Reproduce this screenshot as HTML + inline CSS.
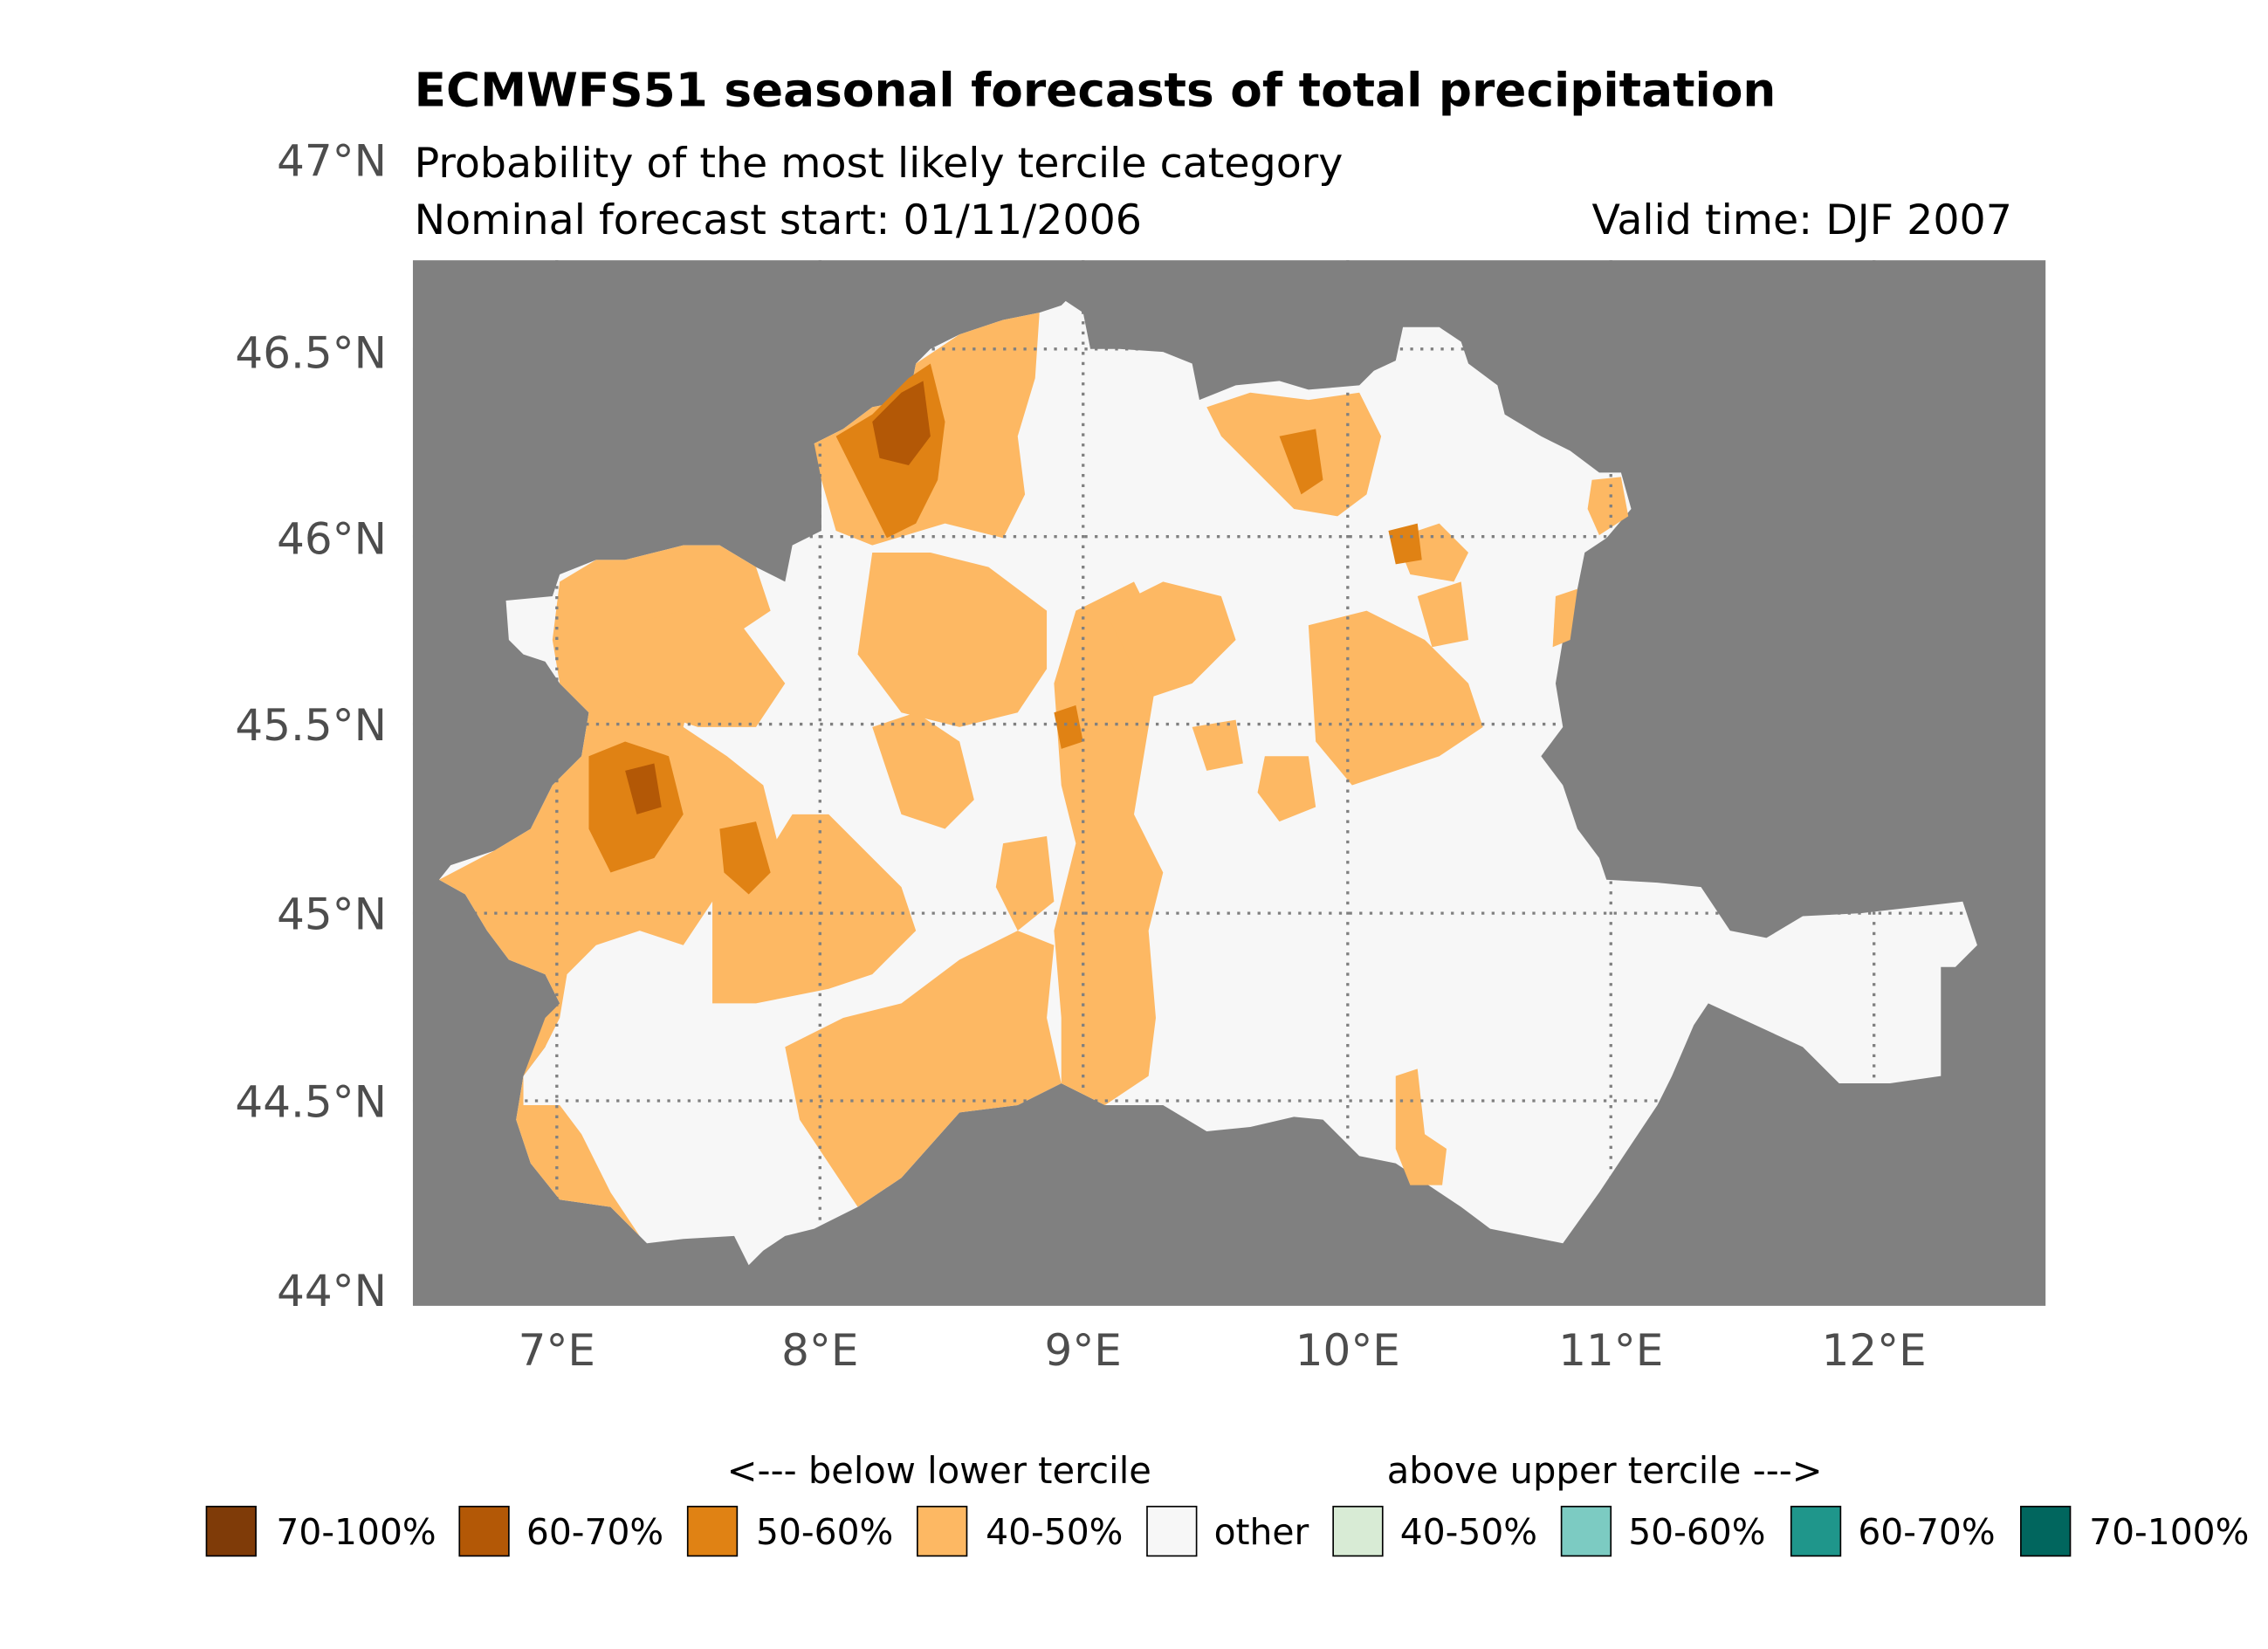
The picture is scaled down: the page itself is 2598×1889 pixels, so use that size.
<!DOCTYPE html>
<html><head><meta charset="utf-8"><style>
html,body{margin:0;padding:0;background:#fff;}
svg{display:block;}
text{font-family:"DejaVu Sans","Liberation Sans",sans-serif;}
</style></head><body>
<svg width="2598" height="1889" viewBox="0 0 1560 1134" preserveAspectRatio="none" xmlns="http://www.w3.org/2000/svg">
<rect width="1560" height="1134" fill="#fff"/>
<text x="285" y="73" font-size="32" font-weight="bold" fill="#000">ECMWFS51 seasonal forecasts of total precipitation</text>
<text x="285" y="122" font-size="28.5" fill="#000">Probability of the most likely tercile category</text>
<text x="285" y="161" font-size="28.5" fill="#000">Nominal forecast start: 01/11/2006</text>
<text x="1384" y="161" font-size="28.5" fill="#000" text-anchor="end">Valid time: DJF 2007</text>
<rect x="284" y="179" width="1123" height="719" fill="#808080"/>
<polygon fill="#f7f7f7" points="733,207 745,215 750,240 770,240 800,242 820,250 825,275 850,265 880,262 900,268 935,265 945,255 960,248 965,225 990,225 1005,235 1010,250 1030,265 1035,285 1060,300 1080,310 1100,325 1115,325 1122,350 1105,370 1090,380 1085,405 1075,440 1070,470 1075,500 1060,520 1075,540 1085,570 1100,590 1105,605 1140,607 1170,610 1190,640 1215,645 1240,630 1280,628 1350,620 1360,650 1345,665 1335,665 1335,740 1300,745 1265,745 1240,720 1175,690 1165,705 1150,740 1140,760 1120,790 1100,820 1075,855 1050,850 1025,845 1005,830 990,820 960,800 935,795 910,770 890,768 860,775 830,778 800,760 760,760 730,745 700,760 660,765 620,810 590,830 560,845 540,850 525,860 515,870 505,850 470,852 445,855 420,830 385,825 365,800 355,770 360,740 375,720 385,690 375,670 350,660 335,640 320,615 302,605 310,595 340,585 365,570 380,540 400,520 405,490 385,470 375,455 360,450 350,440 348,413 380,410 385,395 410,385 430,385 470,375 495,375 520,390 540,400 545,375 565,365 565,320 560,305 580,295 600,280 625,275 630,250 640,240 660,230 690,220 715,215 730,210"/>
<g fill="#fdb863">
<polygon points="302,605 340,585 365,570 380,540 400,520 405,490 385,470 380,440 385,400 410,385 430,385 470,375 495,375 520,390 530,420 500,440 480,460 470,500 500,520 525,540 535,580 520,610 490,620 470,650 440,640 410,650 390,670 385,700 375,720 360,740 360,760 385,760 400,780 420,820 440,850 420,830 385,825 365,800 355,770 360,740 375,700 385,690 375,670 350,660 335,640 320,615"/>
<polygon points="560,305 580,295 600,280 625,275 630,250 660,230 690,220 715,215 712,260 700,300 705,340 690,370 650,360 600,375 575,365 565,330"/>
<polygon points="430,430 470,420 510,430 540,470 520,500 480,500 450,490 430,470"/>
<polygon points="600,380 640,380 680,390 720,420 720,460 700,490 660,500 620,490 590,450"/>
<polygon points="740,420 780,400 800,440 790,500 780,560 800,600 790,640 795,700 790,740 760,760 730,745 730,700 725,640 740,580 730,540 725,470"/>
<polygon points="540,720 580,700 620,690 660,660 700,640 725,650 720,700 730,745 700,760 660,765 620,810 590,830 570,800 550,770"/>
<polygon points="490,620 520,600 545,560 570,560 600,590 620,610 630,640 600,670 570,680 520,690 490,690"/>
<polygon points="600,500 630,490 660,510 670,550 650,570 620,560"/>
<polygon points="830,280 860,270 900,275 935,270 950,300 940,340 920,355 890,350 860,320 840,300"/>
<polygon points="760,420 800,400 840,410 850,440 820,470 790,480"/>
<polygon points="900,430 940,420 980,440 1010,470 1020,500 990,520 960,530 930,540 905,510"/>
<polygon points="960,370 990,360 1010,380 1000,400 970,395"/>
<polygon points="1095,330 1115,328 1120,355 1100,368 1092,350"/>
<polygon points="1070,410 1085,405 1080,440 1068,445"/>
<polygon points="960,740 975,735 980,780 995,790 992,815 970,815 960,790"/>
<polygon points="870,520 900,520 905,555 880,565 865,545"/>
<polygon points="690,580 720,575 725,620 700,640 685,610"/>
<polygon points="820,500 850,495 855,525 830,530"/>
<polygon points="975,410 1005,400 1010,440 985,445"/>
</g>
<g fill="#e08214">
<polygon points="575,300 600,285 625,260 640,250 650,290 645,330 630,360 610,370 590,330"/>
<polygon points="405,520 430,510 460,520 470,560 450,590 420,600 405,570"/>
<polygon points="495,570 520,565 530,600 515,615 498,600"/>
<polygon points="725,490 740,485 745,510 730,515"/>
<polygon points="880,300 905,295 910,330 895,340"/>
<polygon points="955,365 975,360 978,385 960,388"/>
</g>
<g fill="#b35806">
<polygon points="600,290 620,270 635,262 640,300 625,320 605,315"/>
<polygon points="430,530 450,525 455,555 438,560"/>
</g>
<g stroke="#808080" stroke-width="2" stroke-dasharray="2,5" fill="none">
<line x1="383" y1="179" x2="383" y2="898"/><line x1="564" y1="179" x2="564" y2="898"/>
<line x1="745" y1="179" x2="745" y2="898"/><line x1="927" y1="179" x2="927" y2="898"/>
<line x1="1108" y1="179" x2="1108" y2="898"/><line x1="1289" y1="179" x2="1289" y2="898"/>
<line x1="284" y1="240" x2="1407" y2="240"/><line x1="284" y1="369" x2="1407" y2="369"/>
<line x1="284" y1="498" x2="1407" y2="498"/><line x1="284" y1="628" x2="1407" y2="628"/>
<line x1="284" y1="757" x2="1407" y2="757"/>
</g>
<g font-size="30" fill="#4d4d4d" text-anchor="end">
<text x="266" y="121">47°N</text><text x="266" y="253">46.5°N</text><text x="266" y="381">46°N</text>
<text x="266" y="509">45.5°N</text><text x="266" y="639">45°N</text><text x="266" y="768">44.5°N</text><text x="266" y="898">44°N</text>
</g>
<g font-size="30" fill="#4d4d4d" text-anchor="middle">
<text x="383" y="939">7°E</text><text x="564" y="939">8°E</text><text x="745" y="939">9°E</text>
<text x="927" y="939">10°E</text><text x="1108" y="939">11°E</text><text x="1289" y="939">12°E</text>
</g>
<g font-size="25" fill="#000">
<text x="500" y="1020">&lt;--- below lower tercile</text>
<text x="954" y="1020">above upper tercile ---&gt;</text>
</g>
<g stroke="#000" stroke-width="1">
<rect x="142" y="1036" width="34" height="34" fill="#7f3b08"/>
<rect x="316" y="1036" width="34" height="34" fill="#b35806"/>
<rect x="473" y="1036" width="34" height="34" fill="#e08214"/>
<rect x="631" y="1036" width="34" height="34" fill="#fdb863"/>
<rect x="789" y="1036" width="34" height="34" fill="#f7f7f7"/>
<rect x="917" y="1036" width="34" height="34" fill="#d8ebd5"/>
<rect x="1074" y="1036" width="34" height="34" fill="#7ccbc2"/>
<rect x="1232" y="1036" width="34" height="34" fill="#1f968b"/>
<rect x="1390" y="1036" width="34" height="34" fill="#01665e"/>
</g>
<g font-size="24.5" fill="#000">
<text x="190" y="1062">70-100%</text><text x="362" y="1062">60-70%</text><text x="520" y="1062">50-60%</text>
<text x="678" y="1062">40-50%</text><text x="835" y="1062">other</text><text x="963" y="1062">40-50%</text>
<text x="1120" y="1062">50-60%</text><text x="1278" y="1062">60-70%</text><text x="1437" y="1062">70-100%</text>
</g>
</svg>
</body></html>
